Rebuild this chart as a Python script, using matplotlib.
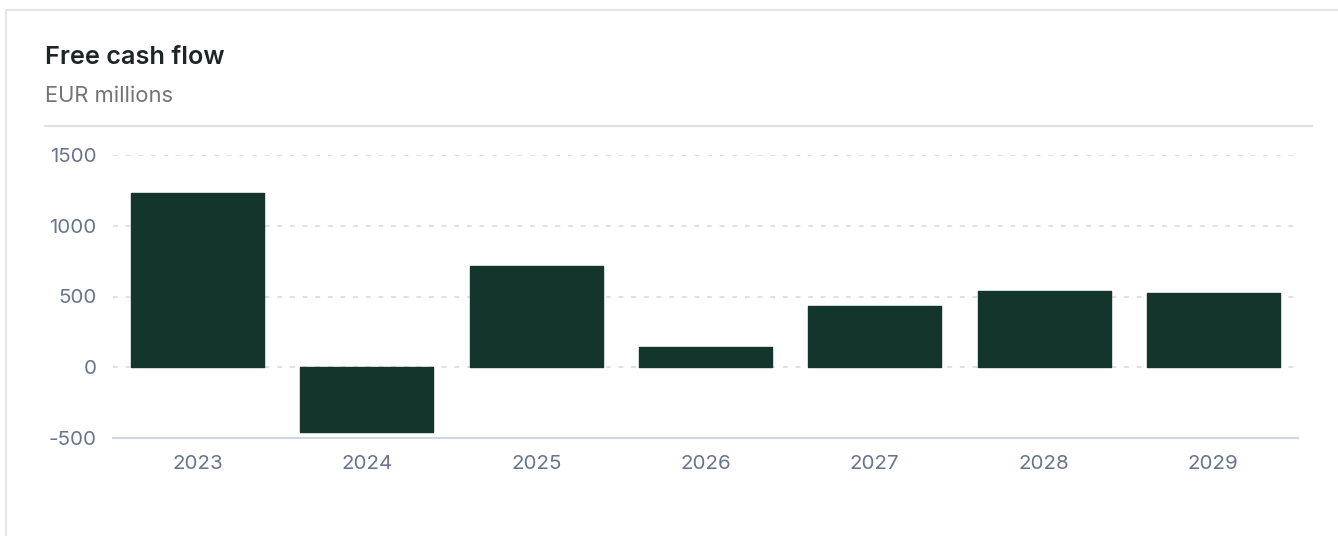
import matplotlib
matplotlib.use('Agg')
import matplotlib.pyplot as plt
from matplotlib.lines import Line2D

# free cash flow per year, EUR millions
years = ['2023', '2024', '2025', '2026', '2027', '2028', '2029']
fcf = [1232, -455, 714, 141, 436, 538, 523]
y_ticks = [-500, 0, 500, 1000, 1500]

bar_color = '#13352c'
tick_color = '#66758c'
grid_color = '#dae1ea'

plt.rcParams['font.family'] = ['Inter', 'DejaVu Sans']

fig = plt.figure(figsize=(13.38, 5.36), dpi=100)
W, H = 1338, 536

# card outline and header separator
fig.add_artist(Line2D([6 / W, 6 / W], [0, 1 - 10 / H], color='#e2e6e6', lw=1.5))
fig.add_artist(Line2D([6 / W, 1], [1 - 10 / H, 1 - 10 / H], color='#e2e6e6', lw=1.5))
fig.add_artist(Line2D([45 / W, 1312 / W], [1 - 126 / H, 1 - 126 / H], color='#dde1e1', lw=1.5))

fig.text(45 / W, 1 - 58 / H, 'Free cash flow', fontsize=18.2, fontweight='semibold',
         color='#1d2626', va='center')
fig.text(45 / W, 1 - 96 / H, 'EUR millions', fontsize=15.8, color='#6e7573', va='center')

ax = fig.add_axes([113 / W, 1 - 438 / H, (1298 - 113) / W, (438 - 155) / H])

x = range(len(years))
ax.bar(x, fcf, width=0.785, color=bar_color, edgecolor=bar_color, linewidth=1,
       joinstyle='round', zorder=3)

ax.set_xlim(-0.5, len(years) - 0.5)
ax.set_ylim(-500, 1500)
ax.set_yticks(y_ticks)
ax.set_yticklabels([str(v) for v in y_ticks])
ax.set_xticks(list(x))
ax.set_xticklabels(years)

for v in y_ticks[1:]:
    ax.axhline(v, color=grid_color, lw=1.4, ls=(0, (2.5, 4)), zorder=1)

for side in ['top', 'right', 'left']:
    ax.spines[side].set_visible(False)
ax.spines['bottom'].set_color('#cdd6e2')
ax.spines['bottom'].set_linewidth(1.5)

ax.tick_params(axis='both', length=0, labelsize=14.8, labelcolor=tick_color)
ax.tick_params(axis='y', pad=12)
ax.tick_params(axis='x', pad=12)

fig.savefig('out.png', dpi=100)
